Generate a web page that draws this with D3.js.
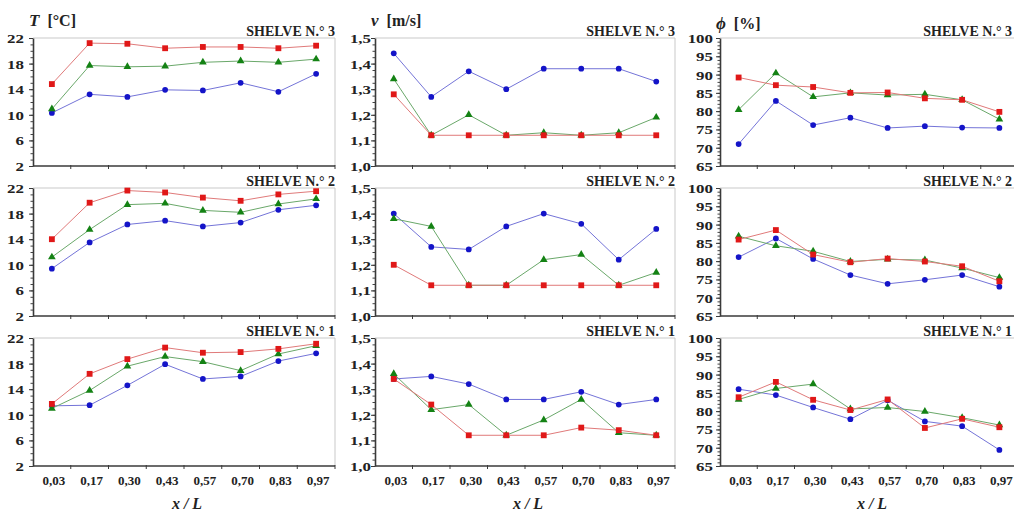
<!DOCTYPE html>
<html>
<head>
<meta charset="utf-8">
<script src="https://cdn.jsdelivr.net/npm/d3@7"></script>
<style>
  html, body { margin: 0; padding: 0; background: #fff; }
  svg { display: block; }
  text { font-family: "Liberation Serif", "Times New Roman", serif; font-weight: bold; fill: #222; }
</style>
</head>
<body>
<svg id="chart" width="1014" height="514"></svg>
<script>
// ---------- DATA ----------
const categories = ["0,03", "0,17", "0,30", "0,43", "0,57", "0,70", "0,83", "0,97"];
const shelves = ["SHELVE N.° 3", "SHELVE N.° 2", "SHELVE N.° 1"];

// Temperature T [°C]
const tS3Blue  = [10.3, 13.2, 12.8, 13.9, 13.8, 15.0, 13.6, 16.4];
const tS3Green = [10.9, 17.7, 17.5, 17.6, 18.2, 18.4, 18.2, 18.7];
const tS3Red   = [14.8, 21.2, 21.1, 20.4, 20.6, 20.6, 20.4, 20.8];
const tS2Blue  = [9.4, 13.5, 16.3, 16.9, 16.0, 16.6, 18.6, 19.3];
const tS2Green = [11.2, 15.5, 19.4, 19.6, 18.5, 18.2, 19.5, 20.3];
const tS2Red   = [14.0, 19.7, 21.6, 21.3, 20.5, 20.0, 21.0, 21.5];
const tS1Blue  = [11.4, 11.5, 14.6, 17.9, 15.6, 16.0, 18.4, 19.6];
const tS1Green = [11.0, 13.8, 17.6, 19.1, 18.3, 16.9, 19.5, 20.8];
const tS1Red   = [11.7, 16.4, 18.7, 20.5, 19.7, 19.8, 20.3, 21.1];

// Velocity v [m/s]
const vS3Blue  = [1.44, 1.27, 1.37, 1.30, 1.38, 1.38, 1.38, 1.33];
const vS3Green = [1.34, 1.12, 1.20, 1.12, 1.13, 1.12, 1.13, 1.19];
const vS3Red   = [1.28, 1.12, 1.12, 1.12, 1.12, 1.12, 1.12, 1.12];
const vS2Blue  = [1.40, 1.27, 1.26, 1.35, 1.40, 1.36, 1.22, 1.34];
const vS2Green = [1.38, 1.35, 1.12, 1.12, 1.22, 1.24, 1.12, 1.17];
const vS2Red   = [1.20, 1.12, 1.12, 1.12, 1.12, 1.12, 1.12, 1.12];
const vS1Blue  = [1.34, 1.35, 1.32, 1.26, 1.26, 1.29, 1.24, 1.26];
const vS1Green = [1.36, 1.22, 1.24, 1.12, 1.18, 1.26, 1.13, 1.12];
const vS1Red   = [1.34, 1.24, 1.12, 1.12, 1.12, 1.15, 1.14, 1.12];

// Relative humidity phi [%]
const pS3Blue  = [71.0, 82.8, 76.2, 78.2, 75.4, 75.9, 75.5, 75.4];
const pS3Green = [80.4, 90.4, 83.9, 85.0, 84.4, 84.6, 83.1, 77.8];
const pS3Red   = [89.2, 87.1, 86.6, 85.0, 85.1, 83.5, 83.1, 79.8];
const pS2Blue  = [81.1, 86.2, 80.6, 76.2, 73.8, 74.9, 76.2, 73.0];
const pS2Green = [86.8, 84.2, 82.7, 79.9, 80.5, 80.3, 78.1, 75.5];
const pS2Red   = [85.9, 88.5, 81.8, 79.7, 80.7, 79.9, 78.6, 74.5];
const pS1Blue  = [86.0, 84.4, 81.0, 77.8, 83.0, 77.2, 75.9, 69.4];
const pS1Green = [83.2, 86.2, 87.4, 80.6, 81.0, 79.9, 78.2, 76.2];
const pS1Red   = [83.8, 88.0, 83.1, 80.3, 83.2, 75.4, 77.9, 75.6];

const tTicks = [2, 6, 10, 14, 18, 22];
const vTicks = [1.0, 1.1, 1.2, 1.3, 1.4, 1.5];
const pTicks = [65, 70, 75, 80, 85, 90, 95, 100];

// ---------- LAYOUT / STYLE ----------
const svg = d3.select("#chart");
const rowsTop = [38, 188, 338];
const plotH = 128;
const columns = [
  { x: 33,  w: 302, domain: [2, 22],   ticks: tTicks, minor: 1,     fmt: d => String(d),
    titleMain: "T", titleUnit: "[°C]", titleY: 26, labGap: 9, shelfRight: 335,
    data: [[tS3Blue, tS3Green, tS3Red], [tS2Blue, tS2Green, tS2Red], [tS1Blue, tS1Green, tS1Red]] },
  { x: 375, w: 300, domain: [1.0, 1.5], ticks: vTicks, minor: 0.025, fmt: d => d.toFixed(1).replace(".", ","),
    titleMain: "v", titleUnit: "[m/s]", titleY: 26, labGap: 4, shelfRight: 675,
    data: [[vS3Blue, vS3Green, vS3Red], [vS2Blue, vS2Green, vS2Red], [vS1Blue, vS1Green, vS1Red]] },
  { x: 720, w: 298, domain: [65, 100], ticks: pTicks, minor: 1,     fmt: d => String(d),
    titleMain: "ϕ", titleUnit: "[%]", titleY: 29, labGap: 7, shelfRight: 1012,
    data: [[pS3Blue, pS3Green, pS3Red], [pS2Blue, pS2Green, pS2Red], [pS1Blue, pS1Green, pS1Red]] }
];
const seriesStyle = [
  { line: "#7474d8", fill: "#1414c8", shape: d3.symbolCircle,   size: 26 },
  { line: "#6aa86a", fill: "#148214", shape: d3.symbolTriangle, size: 26 },
  { line: "#e07a7a", fill: "#e01818", shape: d3.symbolSquare,   size: 34 }
];

columns.forEach((col, ci) => {
  const x = d3.scaleBand().domain(categories).range([col.x, col.x + col.w]).padding(0);
  // column title
  const t = svg.append("text").attr("x", col.x - 4).attr("y", col.titleY).attr("font-size", 17);
  t.append("tspan").attr("font-style", "italic").text(col.titleMain);
  t.append("tspan").attr("dx", 8).attr("font-size", 16).text(col.titleUnit);

  rowsTop.forEach((top, ri) => {
    const y = d3.scaleLinear().domain(col.domain).range([top + plotH, top]);
    const g = svg.append("g");

    // light frame (top & right)
    g.append("path")
      .attr("d", `M${col.x},${top}H${col.x + col.w}V${top + plotH}`)
      .attr("fill", "none").attr("stroke", "#c9c9c9").attr("stroke-width", 1);

    // minor ticks
    const minorVals = d3.range(col.domain[0], col.domain[1] + col.minor / 2, col.minor);
    g.append("g").attr("transform", `translate(${col.x},0)`)
      .call(d3.axisLeft(y).tickValues(minorVals).tickSize(2.5).tickFormat(""))
      .call(s => s.select(".domain").remove())
      .selectAll("line").attr("stroke", "#444");

    // major y axis
    const ya = g.append("g").attr("transform", `translate(${col.x},0)`)
      .call(d3.axisLeft(y).tickValues(col.ticks).tickSize(4).tickSizeOuter(0).tickFormat(col.fmt));
    ya.select(".domain").attr("stroke", "#3a3a3a").attr("stroke-width", 1.6);
    ya.selectAll("line").attr("stroke", "#3a3a3a");
    ya.selectAll("text")
      .attr("x", 0).attr("dy", "0.34em")
      .attr("transform", `translate(${-col.labGap},0) scale(1.3,1)`)
      .attr("font-size", 13).attr("font-family", "Liberation Serif, Times New Roman, serif")
      .attr("font-weight", "bold").attr("fill", "#222");

    // x axis (ticks at band boundaries)
    const xb = g.append("g");
    xb.append("line")
      .attr("x1", col.x).attr("x2", col.x + col.w)
      .attr("y1", top + plotH).attr("y2", top + plotH)
      .attr("stroke", "#3a3a3a").attr("stroke-width", 1.6);
    xb.selectAll("line.tk").data(categories).join("line").attr("class", "tk")
      .attr("x1", d => x(d) + x.bandwidth()).attr("x2", d => x(d) + x.bandwidth())
      .attr("y1", top + plotH - 1).attr("y2", top + plotH + 3)
      .attr("stroke", "#3a3a3a").attr("stroke-width", 1);

    if (ri === 2) {
      g.selectAll("text.xl").data(categories).join("text").attr("class", "xl")
        .attr("x", d => x(d) + x.bandwidth() / 2 + 2).attr("y", 485)
        .attr("text-anchor", "middle").attr("font-size", 13).text(d => d);
      svg.append("text").attr("x", col.x + col.w / 2 + 3).attr("y", 509)
        .attr("text-anchor", "middle").attr("font-size", 16).attr("font-style", "italic")
        .text("x / L");
    }

    // shelf label
    g.append("text").attr("x", col.shelfRight).attr("y", top - 2)
      .attr("text-anchor", "end").attr("font-size", 14).text(shelves[ri]);

    // series
    col.data[ri].forEach((vals, si) => {
      const st = seriesStyle[si];
      const pts = vals.map((v, i) => [x(categories[i]) + x.bandwidth() / 2, y(v)]);
      g.append("path").attr("d", d3.line()(pts))
        .attr("fill", "none").attr("stroke", st.line).attr("stroke-width", 1);
      g.selectAll(null).data(pts).join("path")
        .attr("transform", d => `translate(${d[0]},${d[1]})`)
        .attr("d", d3.symbol().type(st.shape).size(st.size))
        .attr("fill", st.fill);
    });
  });
});
</script>
</body>
</html>
